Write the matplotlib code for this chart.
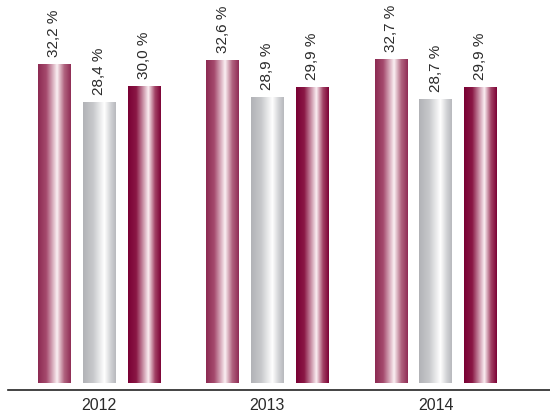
import matplotlib.pyplot as plt
import numpy as np
from matplotlib.colors import LinearSegmentedColormap

years = ["2012", "2013", "2014"]
series_a = [32.2, 32.6, 32.7]
series_b = [28.4, 28.9, 28.7]
series_c = [30.0, 29.9, 29.9]
labels_a = ["32,2 %", "32,6 %", "32,7 %"]
labels_b = ["28,4 %", "28,9 %", "28,7 %"]
labels_c = ["30,0 %", "29,9 %", "29,9 %"]

font = "Liberation Sans"

# gradient colormaps (dark edges, light highlight)
cm_a = LinearSegmentedColormap.from_list("a", [(0, "#8c2a52"), (0.25, "#a54a6d"), (0.58, "#fbf0f3"),
                                               (0.8, "#b0637f"), (1, "#8f2d55")])
cm_b = LinearSegmentedColormap.from_list("b", [(0, "#b2b3b7"), (0.3, "#c6c7ca"), (0.65, "#ffffff"),
                                               (0.85, "#d0d1d4"), (1, "#b8b9bd")])
cm_c = LinearSegmentedColormap.from_list("c", [(0, "#7a0034"), (0.25, "#8a1845"), (0.62, "#fbeef2"),
                                               (0.82, "#a34366"), (1, "#7c0236")])

fig = plt.figure(figsize=(5.5, 4.14), dpi=100)
ax = fig.add_axes([8 / 550, 23 / 414, 542 / 550, 391 / 414])

x = np.arange(len(years))
w = 0.192
step = 0.2656
grad = np.linspace(0, 1, 256).reshape(1, -1)

for off, vals, labs, cmap in [(-step, series_a, labels_a, cm_a),
                              (0, series_b, labels_b, cm_b),
                              (step, series_c, labels_c, cm_c)]:
    bars = ax.bar(x + off, vals, width=w, color="none", edgecolor="none")
    for rect, lab in zip(bars, labs):
        x0 = rect.get_x()
        h = rect.get_height()
        ax.imshow(grad, cmap=cmap, extent=[x0, x0 + rect.get_width(), 0, h],
                  aspect="auto", zorder=2)
        ax.text(x0 + rect.get_width() / 2, h + 0.9, lab, rotation=90,
                ha="center", va="bottom", fontsize=11, family=font,
                color="#2a2a2a")

ax.set_xlim(-0.541, 2.680)
ax.set_ylim(-0.66, 38.9)
ax.set_xticks(x)
ax.set_xticklabels(years, fontsize=11.5, family=font, color="#2a2a2a")
ax.tick_params(axis="x", length=0, pad=5)
ax.set_yticks([])
for s in ["top", "right", "left"]:
    ax.spines[s].set_visible(False)
ax.spines["bottom"].set_color("#222222")
ax.spines["bottom"].set_linewidth(1.2)

plt.savefig("out.png", dpi=100)
